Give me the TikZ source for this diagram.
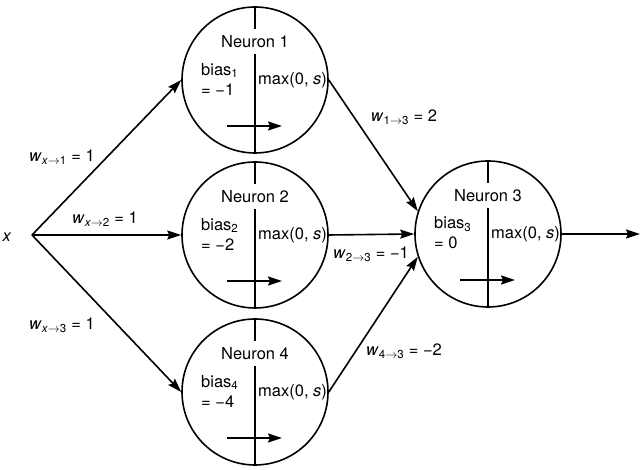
\documentclass[tikz,border=0pt]{standalone}
\usepackage{fontspec}
\setmainfont{TeX Gyre Heros}
\usepackage{tikz}
\usetikzlibrary{arrows.meta}
\tikzstyle{neuron} = [draw, circle, line width=1.6pt, minimum size=146pt, inner sep=0pt]
\tikzstyle{edge} = [line width=1.6pt]
\tikzstyle{diredge} = [line width=1.6pt, -{Stealth[length=14pt,width=9pt,inset=2pt]}]
\newcommand{\wlab}[2]{\textit{w}\textsubscript{#1}~=~#2}

\begin{document}
\begin{tikzpicture}[x=1pt,y=1pt,every node/.style={font=\fontsize{16.5}{20}\selectfont}]
    \useasboundingbox (0,0) rectangle (640,470);
    \node[neuron] (n1) at (255,390) {};
    \node[neuron] (n2) at (255,235) {};
    \node[neuron] (n4) at (255,78) {};
    \node[neuron] (n3) at (488,236) {};
    \coordinate (src) at (32,235);
    \coordinate (out) at (640,236);
    \node (xin) at (7,233) {\textit{x}};
    \draw[diredge] (src) -- (n1.west);
    \draw[diredge] (src) -- (n2.west);
    \draw[diredge] (src) -- (n4.west);
    \draw[diredge] (n1.east) -- (n3.162);
    \draw[diredge] (n2.east) -- (n3.west);
    \draw[diredge] (n4.east) -- (n3.198);
    \draw[diredge] (n3.east) -- (out);
    \foreach \n/\k/\b in {n1/1/{−1},n2/2/{−2},n3/3/0,n4/4/{−4}}{
        \draw[edge] (\n.north) -- ++(0,-23);
        \draw[edge] (\n.south) -- ++(0,100);
        \node (\n-lab) at ([yshift=38pt]\n.center) {Neuron \k};
        \node[anchor=west, align=left, inner sep=0pt] (\n-bias)
            at ([shift={(-54pt,1pt)}]\n.center) {bias\textsubscript{\k}\\= \b};
        \node[anchor=west, inner sep=0pt] (\n-max)
            at ([shift={(3pt,0pt)}]\n.center) {max(0, \textit{s})};
        \draw[diredge] ([shift={(-28pt,-46pt)}]\n.center) -- ++(55,0);
    }
    \node (wx1) at (62,313) {\wlab{\textit{x}$\to$1}{1}};
    \node (wx2) at (105,251) {\wlab{\textit{x}$\to$2}{1}};
    \node (wx3) at (62,145) {\wlab{\textit{x}$\to$3}{1}};
    \node (w13) at (404,353) {\wlab{1$\to$3}{2}};
    \node (w23) at (371,216) {\wlab{2$\to$3}{−1}};
    \node (w43) at (404,119) {\wlab{4$\to$3}{−2}};
\end{tikzpicture}
\end{document}
